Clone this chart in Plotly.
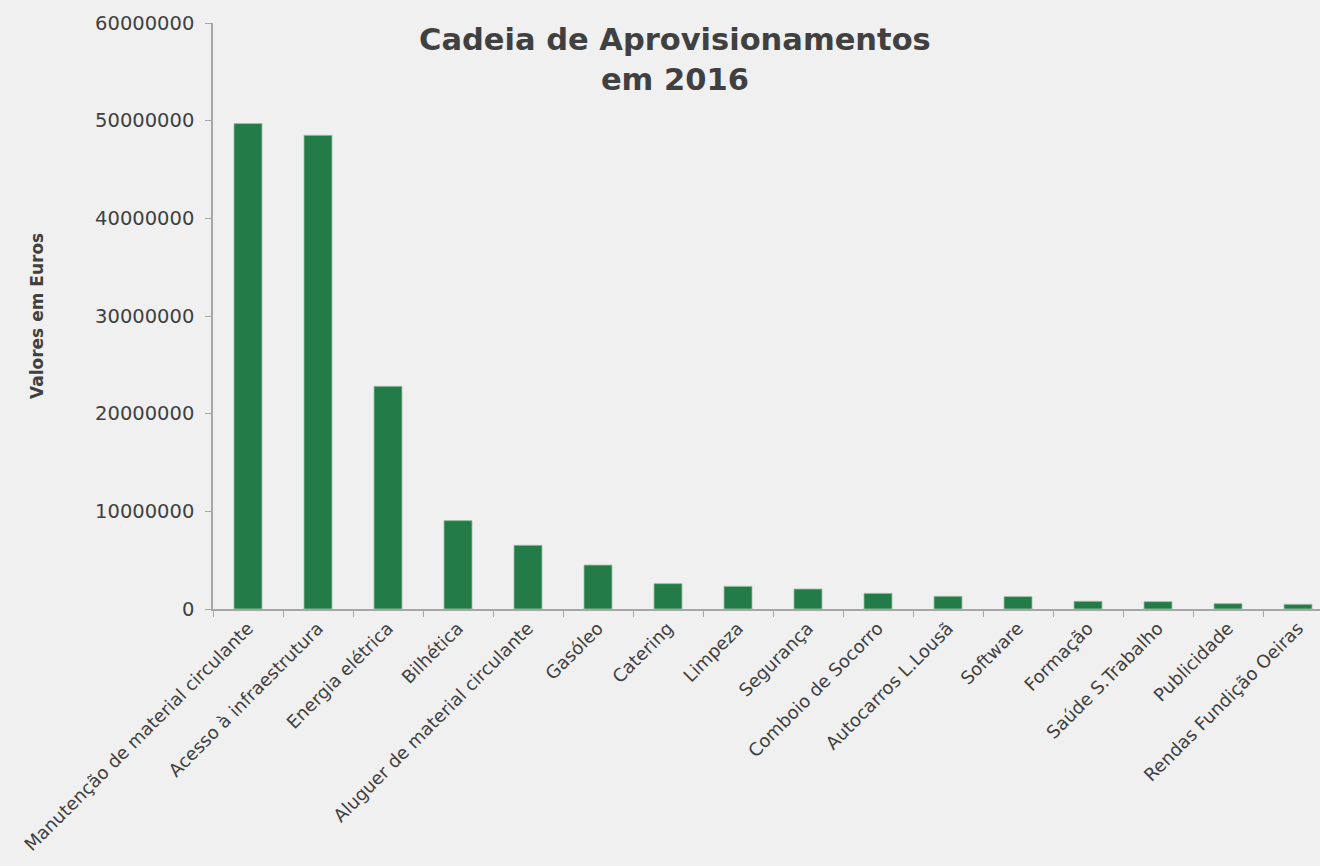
import plotly.graph_objects as go

categories = [
    "Manutenção de material circulante", "Acesso à infraestrutura", "Energia elétrica",
    "Bilhética", "Aluguer de material circulante", "Gasóleo", "Catering", "Limpeza",
    "Segurança", "Comboio de Socorro", "Autocarros L.Lousã", "Software", "Formação",
    "Saúde S.Trabalho", "Publicidade", "Rendas Fundição Oeiras",
]
values = [
    49700000, 48500000, 22800000, 9050000, 6520000, 4500000, 2600000, 2320000,
    2050000, 1600000, 1300000, 1270000, 790000, 750000, 550000, 480000,
]
y_ticks = [0, 10000000, 20000000, 30000000, 40000000, 50000000, 60000000]

FONT = "DejaVu Sans"
TXT = "#404040"
GREEN = "#237B48"

fig = go.Figure(go.Bar(
    x=categories, y=values,
    marker=dict(color=GREEN, line=dict(color="#9cc2a6", width=0.8)),
))

W, H = 1320, 866
L, R, T, B = 213, 0, 23, 257
plot_w = W - L - R
cat_w = 70.0
n_vis = plot_w / cat_w

fig.update_layout(
    width=W, height=H,
    margin=dict(l=L, r=R, t=T, b=B, pad=0),
    paper_bgcolor="#F0F0F0", plot_bgcolor="#F0F0F0",
    bargap=0.6,
    showlegend=False,
    font=dict(family=FONT, color=TXT, size=17),
    xaxis=dict(
        range=[-0.5, -0.5 + n_vis],
        tickangle=-45, tickson="boundaries", ticks="outside", ticklen=6,
        tickcolor="#a6a6a6", showline=True, linecolor="#a6a6a6", linewidth=1.5,
        showgrid=False, tickfont=dict(family=FONT, size=18, color=TXT),
    ),
    yaxis=dict(
        range=[0, 60000000], tickvals=y_ticks,
        ticktext=[str(v) for v in y_ticks],
        ticks="outside", ticklen=6, tickcolor="#a6a6a6",
        showline=True, linecolor="#a6a6a6", linewidth=1.5,
        showgrid=False, zeroline=False,
        tickfont=dict(family=FONT, size=19.5, color=TXT),
        ticklabelstandoff=7,
    ),
    annotations=[
        dict(
            text="<b>Cadeia de Aprovisionamentos<br>em 2016</b>",
            xref="paper", yref="paper",
            x=(675 - L) / plot_w, y=1 + (T - 20) / (H - T - B),
            xanchor="center", yanchor="top", showarrow=False,
            font=dict(family=FONT, size=30.5, color=TXT), align="center",
        ),
        dict(
            text="<b>Valores em Euros</b>",
            xref="paper", yref="paper",
            x=(37 - L) / plot_w, y=0.5, textangle=-90,
            xanchor="center", yanchor="middle", showarrow=False,
            font=dict(family=FONT, size=17, color=TXT),
        ),
    ],
)

fig.write_html(
    "out.html",
    config={"displayModeBar": False},
    post_script="document.body.style.margin='0';document.body.style.overflow='hidden';",
)
